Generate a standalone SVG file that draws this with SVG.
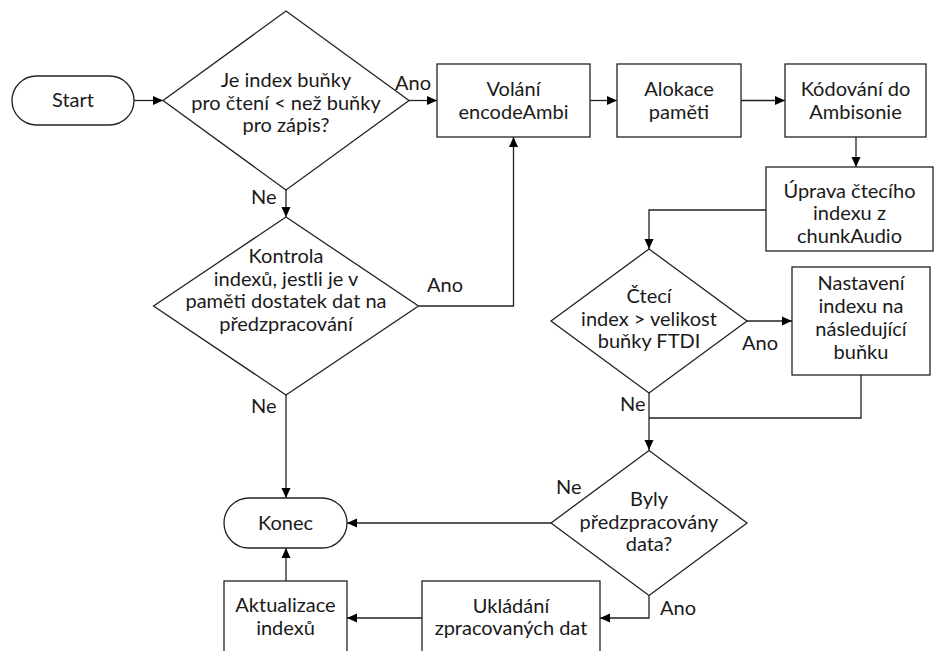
<svg xmlns="http://www.w3.org/2000/svg" width="935" height="651" viewBox="0 0 935 651">
<defs>
<marker id="ah" viewBox="0 0 10 10" refX="10" refY="5" markerWidth="10" markerHeight="10" markerUnits="userSpaceOnUse" orient="auto">
<path d="M0,0.5 L10,5 L0,9.5 Z" fill="#000"/>
</marker>
<style>
.s{fill:#fff;stroke:#222;stroke-width:1.3}
.t{font-family:Lato,"Open Sans","Liberation Sans",sans-serif;font-size:20px;fill:#1a1a1a;text-anchor:middle}
.l{font-family:Lato,"Open Sans","Liberation Sans",sans-serif;font-size:20px;fill:#1a1a1a}
.c{fill:none;stroke:#222;stroke-width:1.3}
.a{marker-end:url(#ah)}
</style>
</defs>
<rect width="935" height="651" fill="#fff"/>
<g id="connectors">
<path class="c a" d="M134,100.5 H163"/>
<path class="c a" d="M409,100.5 H437"/>
<path class="c a" d="M286,190 V217"/>
<path class="c a" d="M418.5,306 H513.5 V137"/>
<path class="c a" d="M286,395 V498"/>
<path class="c a" d="M590,100.5 H617"/>
<path class="c a" d="M741,100.5 H785"/>
<path class="c a" d="M856,137 V167"/>
<path class="c a" d="M766,210 H649 V249"/>
<path class="c a" d="M747,321 H792"/>
<path class="c" d="M861,375 V418 H649"/>
<path class="c a" d="M649,393 V450"/>
<path class="c a" d="M551,523 H347"/>
<path class="c a" d="M649,595.5 V618 H600"/>
<path class="c a" d="M422,618 H347"/>
<path class="c a" d="M286,581 V548"/>
<text class="l" x="395" y="90">Ano</text>
<text class="l" x="251" y="204">Ne</text>
<text class="l" x="427" y="292">Ano</text>
<text class="l" x="251" y="413">Ne</text>
<text class="l" x="742" y="350">Ano</text>
<text class="l" x="620" y="411">Ne</text>
<text class="l" x="556" y="494">Ne</text>
<text class="l" x="660" y="615">Ano</text>
</g>
<g id="start">
<rect class="s" x="12" y="76" width="122" height="49" rx="24.5"/>
<text class="t" x="73" y="107">Start</text>
</g>
<g id="d1">
<path class="s" d="M163,100.5 L286,11 L409,100.5 L286,190 Z"/>
<text class="t" x="286" y="87">Je index buňky</text>
<text class="t" x="286" y="109.5">pro čtení &lt; než buňky</text>
<text class="t" x="286" y="132">pro zápis?</text>
</g>
<g id="volani">
<rect class="s" x="437" y="64" width="153" height="73"/>
<text class="t" x="513.5" y="96">Volání</text>
<text class="t" x="513.5" y="118.5">encodeAmbi</text>
</g>
<g id="alokace">
<rect class="s" x="617" y="64" width="124" height="73"/>
<text class="t" x="679" y="96">Alokace</text>
<text class="t" x="679" y="118.5">paměti</text>
</g>
<g id="kodovani">
<rect class="s" x="785" y="64" width="141" height="73"/>
<text class="t" x="855.5" y="96">Kódování do</text>
<text class="t" x="855.5" y="118.5">Ambisonie</text>
</g>
<g id="uprava">
<rect class="s" x="766" y="167" width="167" height="84"/>
<text class="t" x="849.5" y="197.5">Úprava čtecího</text>
<text class="t" x="849.5" y="220">indexu z</text>
<text class="t" x="849.5" y="242.5">chunkAudio</text>
</g>
<g id="d2">
<path class="s" d="M153.5,306 L286,217 L418.5,306 L286,395 Z"/>
<text class="t" x="286" y="263">Kontrola</text>
<text class="t" x="286" y="285.5">indexů, jestli je v</text>
<text class="t" x="286" y="308">paměti dostatek dat na</text>
<text class="t" x="286" y="330.5">předzpracování</text>
</g>
<g id="d3">
<path class="s" d="M551,321 L649,249 L747,321 L649,393 Z"/>
<text class="t" x="649" y="303">Čtecí</text>
<text class="t" x="649" y="325.5">index &gt; velikost</text>
<text class="t" x="649" y="348">buňky FTDI</text>
</g>
<g id="nastaveni">
<rect class="s" x="792" y="267" width="138" height="108"/>
<text class="t" x="861" y="290">Nastavení</text>
<text class="t" x="861" y="313">indexu na</text>
<text class="t" x="861" y="336">následující</text>
<text class="t" x="861" y="359">buňku</text>
</g>
<g id="d4">
<path class="s" d="M551,523 L649,450.5 L747,523 L649,595.5 Z"/>
<text class="t" x="649" y="506">Byly</text>
<text class="t" x="649" y="528.5">předzpracovány</text>
<text class="t" x="649" y="551">data?</text>
</g>
<g id="konec">
<rect class="s" x="224" y="498" width="123" height="50" rx="25"/>
<text class="t" x="285.5" y="529.5">Konec</text>
</g>
<g id="ukladani">
<rect class="s" x="422" y="581" width="178" height="75"/>
<text class="t" x="511" y="612.5">Ukládání</text>
<text class="t" x="511" y="635">zpracovaných dat</text>
</g>
<g id="aktualizace">
<rect class="s" x="224" y="581" width="123" height="75"/>
<text class="t" x="285.5" y="612">Aktualizace</text>
<text class="t" x="285.5" y="635">indexů</text>
</g>
</svg>
